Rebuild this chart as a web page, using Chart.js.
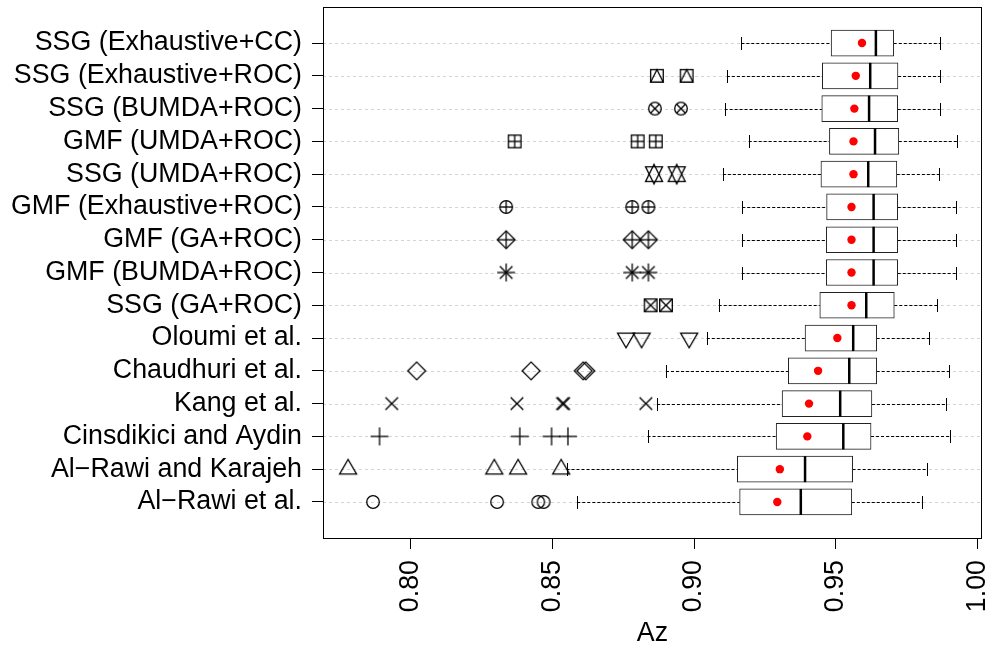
<!DOCTYPE html>
<html>
<head>
<meta charset="utf-8">
<title>Az boxplot</title>
<script src="https://cdn.jsdelivr.net/npm/chart.js@4.4.1/dist/chart.umd.min.js"></script>
<style>
  html, body { margin: 0; padding: 0; background: #fff; }
  #wrap { width: 992px; height: 647px; }
</style>
</head>
<body>
<div id="wrap"><canvas id="azChart" width="992" height="647"></canvas></div>
<script>
// rows from top to bottom
const categories = [
    'SSG (Exhaustive+CC)', 'SSG (Exhaustive+ROC)', 'SSG (BUMDA+ROC)', 'GMF (UMDA+ROC)',
    'SSG (UMDA+ROC)', 'GMF (Exhaustive+ROC)', 'GMF (GA+ROC)', 'GMF (BUMDA+ROC)',
    'SSG (GA+ROC)', 'Oloumi et al.', 'Chaudhuri et al.', 'Kang et al.',
    'Cinsdikici and Aydin', 'Al\u2212Rawi and Karajeh', 'Al\u2212Rawi et al.'
];
const whiskerLow  = [0.9167, 0.9116, 0.9108, 0.9193, 0.9102, 0.9170, 0.9169, 0.9168, 0.9087, 0.9045, 0.8901, 0.8869, 0.8836, 0.8550, 0.8588];
const q1          = [0.9484, 0.9453, 0.9451, 0.9478, 0.9448, 0.9468, 0.9467, 0.9467, 0.9444, 0.9392, 0.9333, 0.9311, 0.9290, 0.9153, 0.9161];
const median      = [0.9642, 0.9622, 0.9618, 0.9639, 0.9615, 0.9634, 0.9634, 0.9634, 0.9608, 0.9562, 0.9548, 0.9516, 0.9527, 0.9392, 0.9377];
const q3          = [0.9705, 0.9720, 0.9719, 0.9723, 0.9716, 0.9719, 0.9719, 0.9719, 0.9707, 0.9645, 0.9645, 0.9628, 0.9625, 0.9560, 0.9557];
const whiskerHigh = [0.9870, 0.9868, 0.9867, 0.9930, 0.9865, 0.9926, 0.9926, 0.9926, 0.9859, 0.9831, 0.9900, 0.9890, 0.9902, 0.9822, 0.9805];
const means       = [0.9593, 0.9571, 0.9566, 0.9563, 0.9563, 0.9556, 0.9556, 0.9556, 0.9556, 0.9506, 0.9438, 0.9406, 0.9400, 0.9303, 0.9294];
const outliers = [
    [],
    [0.8869, 0.8974],
    [0.8862, 0.8954],
    [0.8367, 0.8801, 0.8865],
    [0.8859, 0.8939],
    [0.8337, 0.8782, 0.8839],
    [0.8337, 0.8782, 0.8839],
    [0.8337, 0.8782, 0.8839],
    [0.8847, 0.8901],
    [0.8760, 0.8815, 0.8983],
    [0.8021, 0.8425, 0.8609, 0.8618],
    [0.7933, 0.8375, 0.8536, 0.8540, 0.8830],
    [0.7890, 0.8385, 0.8497, 0.8555],
    [0.7779, 0.8295, 0.8379, 0.8531],
    [0.7867, 0.8305, 0.8450, 0.8469]
];
const xTicks = [0.80, 0.85, 0.90, 0.95, 1.00];

// R plotting symbol (pch) used for each row's outliers
const rowSymbols = [15, 14, 13, 12, 11, 10, 9, 8, 7, 6, 5, 4, 3, 2, 1];

const FONT = 'Liberation Sans, Arial, Helvetica, sans-serif';
const FONT_SIZE = 26.8;

// draws an R-like pch symbol into a small canvas usable as a Chart.js pointStyle
function pchSymbol(pch) {
    const c = document.createElement('canvas');
    c.width = 26; c.height = 26;
    const g = c.getContext('2d');
    const R = 6.3, cx = 13, cy = 13;
    g.strokeStyle = '#000';
    g.lineWidth = 1.3;
    const line = (x1, y1, x2, y2) => { g.beginPath(); g.moveTo(cx + x1, cy + y1); g.lineTo(cx + x2, cy + y2); g.stroke(); };
    const circle = r => { g.beginPath(); g.arc(cx, cy, r, 0, Math.PI * 2); g.stroke(); };
    const poly = pts => {
        g.beginPath();
        pts.forEach(([px, py], k) => k ? g.lineTo(cx + px, cy + py) : g.moveTo(cx + px, cy + py));
        g.closePath(); g.stroke();
    };
    const square = h => g.strokeRect(cx - h, cy - h, 2 * h, 2 * h);
    const plus = h => { line(-h, 0, h, 0); line(0, -h, 0, h); };
    const cross = h => { line(-h, -h, h, h); line(-h, h, h, -h); };
    const diamond = h => poly([[0, -h], [h, 0], [0, h], [-h, 0]]);
    const triUp = () => poly([[0, -1.555 * R], [1.347 * R, 0.778 * R], [-1.347 * R, 0.778 * R]]);
    const triDown = () => poly([[0, 1.555 * R], [1.347 * R, -0.778 * R], [-1.347 * R, -0.778 * R]]);

    switch (pch) {
        case 1: circle(R); break;
        case 2: triUp(); break;
        case 3: plus(Math.SQRT2 * R); break;
        case 4: cross(R); break;
        case 5: diamond(Math.SQRT2 * R); break;
        case 6: triDown(); break;
        case 7: square(R); cross(R); break;
        case 8: cross(R); plus(Math.SQRT2 * R); break;
        case 9: diamond(Math.SQRT2 * R); plus(Math.SQRT2 * R); break;
        case 10: circle(R); plus(R); break;
        case 11: {
            const r = 1.555 * R, yc = 0.5 * (0.778 + 1.555) * R, xc = 1.347 * R;
            poly([[0, -r], [xc, yc], [-xc, yc]]);
            poly([[0, r], [xc, -yc], [-xc, -yc]]);
            break;
        }
        case 12: square(R); plus(R); break;
        case 13: circle(R); cross(R / Math.SQRT2); break;
        case 14: square(R); poly([[0, -R], [R, R], [-R, R]]); break;
        default: square(R);
    }
    return c;
}

// grid lines, whiskers and the plot frame, all placed through the chart scales
const boxplotDecor = {
    id: 'boxplotDecor',
    beforeDatasetsDraw(chart) {
        const { ctx, chartArea: a, scales: { x, y } } = chart;
        ctx.save();
        ctx.lineWidth = 1;
        ctx.strokeStyle = '#d4d4d4';
        ctx.setLineDash([3, 3]);
        categories.forEach((_, i) => {
            const py = Math.round(y.getPixelForValue(i)) + 0.5;
            ctx.beginPath(); ctx.moveTo(a.left, py); ctx.lineTo(a.right, py); ctx.stroke();
        });

        ctx.strokeStyle = '#000';
        categories.forEach((_, i) => {
            const py = Math.round(y.getPixelForValue(i)) + 0.5;
            const lo = x.getPixelForValue(whiskerLow[i]);
            const hi = x.getPixelForValue(whiskerHigh[i]);
            ctx.setLineDash([3, 2]);
            ctx.beginPath();
            ctx.moveTo(lo, py); ctx.lineTo(x.getPixelForValue(q1[i]), py);
            ctx.moveTo(x.getPixelForValue(q3[i]), py); ctx.lineTo(hi, py);
            ctx.stroke();
            ctx.setLineDash([]);
            ctx.beginPath();
            ctx.moveTo(Math.round(lo) + 0.5, py - 6.5); ctx.lineTo(Math.round(lo) + 0.5, py + 6.5);
            ctx.moveTo(Math.round(hi) + 0.5, py - 6.5); ctx.lineTo(Math.round(hi) + 0.5, py + 6.5);
            ctx.stroke();
        });
        ctx.restore();
    },
    afterDraw(chart) {
        const { ctx, chartArea: a } = chart;
        ctx.save();
        ctx.strokeStyle = '#000';
        ctx.lineWidth = 1;
        ctx.strokeRect(a.left + 0.5, a.top + 0.5, a.right - a.left - 1, a.bottom - a.top);
        ctx.restore();
    }
};

const outlierSets = outliers.map((vals, i) => ({
    type: 'scatter',
    data: vals.map(v => ({ x: v, y: i })),
    pointStyle: pchSymbol(rowSymbols[i]),
    pointRadius: 6,
    order: 3
}));

new Chart(document.getElementById('azChart'), {
    type: 'bar',
    data: {
        datasets: [
            {
                type: 'scatter',
                data: means.map((v, i) => ({ x: v, y: i })),
                pointStyle: 'circle',
                pointRadius: 4.2,
                pointBackgroundColor: '#ff0000',
                pointBorderWidth: 0,
                order: 1
            },
            {
                type: 'scatter',
                data: median.map((v, i) => ({ x: v, y: i })),
                pointStyle: 'line',
                pointRotation: 90,
                pointRadius: 13,
                pointBorderColor: '#000',
                pointBorderWidth: 2.5,
                order: 2
            },
            ...outlierSets,
            {
                type: 'bar',
                indexAxis: 'y',
                data: categories.map((_, i) => ({ x: [q1[i], q3[i]], y: i })),
                backgroundColor: '#ffffff',
                borderColor: '#222',
                borderWidth: 1,
                borderSkipped: false,
                barThickness: 26,
                grouped: false,
                order: 4
            }
        ]
    },
    options: {
        responsive: false,
        animation: false,
        events: [],
        layout: { autoPadding: false, padding: { top: 7, right: 10, left: 0, bottom: 0 } },
        plugins: { legend: { display: false }, tooltip: { enabled: false } },
        scales: {
            x: {
                type: 'linear',
                offset: false,
                min: 0.76904,
                max: 1.00166,
                afterBuildTicks: s => { s.ticks = xTicks.map(v => ({ value: v })); },
                afterFit: s => { s.height = 109; s.paddingLeft = 0; s.paddingRight = 0; },
                border: { display: false },
                grid: { offset: false, drawOnChartArea: false, drawTicks: true, tickLength: 11, tickColor: '#000' },
                ticks: {
                    minRotation: 90, maxRotation: 90, padding: 11,
                    color: '#000', font: { family: FONT, size: FONT_SIZE },
                    callback: v => Number(v).toFixed(2)
                },
                title: {
                    display: true, text: 'Az', color: '#000',
                    font: { family: FONT, size: FONT_SIZE },
                    padding: { top: 0, bottom: -3 }
                }
            },
            y: {
                type: 'linear',
                offset: false,
                reverse: true,
                min: -1.1,
                max: 15.1,
                afterBuildTicks: s => { s.ticks = categories.map((_, i) => ({ value: i })); },
                afterFit: s => { s.width = 323; s.paddingTop = 0; s.paddingBottom = 0; },
                border: { display: false },
                grid: { offset: false, drawOnChartArea: false, drawTicks: true, tickLength: 11, tickColor: '#000' },
                ticks: {
                    autoSkip: false, padding: 10,
                    color: '#000', font: { family: FONT, size: FONT_SIZE },
                    callback: v => categories[v]
                }
            }
        }
    },
    plugins: [boxplotDecor]
});
</script>
</body>
</html>
